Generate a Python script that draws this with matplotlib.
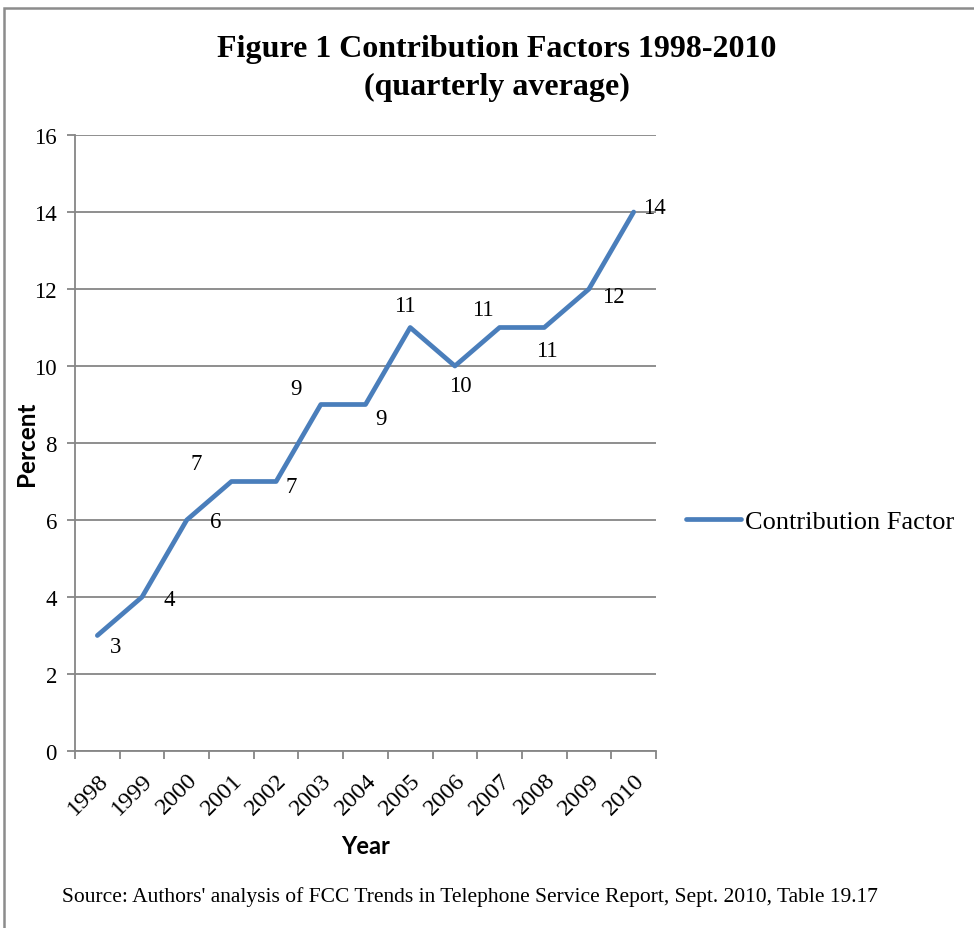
import matplotlib
matplotlib.use("Agg")
import matplotlib.pyplot as plt
from matplotlib.patches import Rectangle

years = ["1998", "1999", "2000", "2001", "2002", "2003", "2004",
         "2005", "2006", "2007", "2008", "2009", "2010"]
values = [3, 4, 6, 7, 7, 9, 9, 11, 10, 11, 11, 12, 14]
# label offsets (pixels) relative to each point
label_dx = [18, 27, 29, -35, 15, -25, 15, -5, 5, -17, 3, 24, 21]
label_dy = [-11, -2, -2, 18, -5, 16, -14, 22, -20, 18, -23, -8, 4]

serif = "Liberation Serif"
sans = "Lato"
grid_c = "#868686"
line_c = "#4A7EBB"

fig = plt.figure(figsize=(9.74, 9.29), dpi=100)
W, H = 974, 929
ax = fig.add_axes([75 / W, 1 - 752 / H, 581 / W, 616 / H])

x = list(range(len(years)))
ax.plot(x, values, color=line_c, lw=3.4, solid_capstyle="round",
        solid_joinstyle="round", label="Contribution Factor", zorder=3)

for xi, v, dx, dy in zip(x, values, label_dx, label_dy):
    ax.annotate(str(v), (xi, v), xytext=(dx, dy), textcoords="offset pixels",
                ha="center", va="center", fontsize=16.5, family=serif, zorder=4)

ax.set_xlim(-0.5, len(years) - 0.5)
ax.set_ylim(0, 16)
ax.set_yticks(range(0, 17, 2))
ax.set_yticklabels([str(t) for t in range(0, 17, 2)], family=serif, fontsize=16.5)
ax.yaxis.grid(True, color=grid_c, lw=1.3)
ax.set_axisbelow(True)

ax.set_xticks([i - 0.5 for i in range(len(years) + 1)])
ax.set_xticklabels([])
ax.set_xticks(x, minor=True)
ax.set_xticklabels(years, minor=True, rotation=45, ha="right", va="top",
                   rotation_mode="anchor", family=serif, fontsize=17.5)
ax.tick_params(axis="x", which="minor", length=0, pad=13)
ax.tick_params(axis="x", which="major", length=6, width=1.3, color=grid_c)
ax.tick_params(axis="y", length=6, width=1.3, color=grid_c, pad=7)

for s in ["top", "right"]:
    ax.spines[s].set_visible(False)
for s in ["left", "bottom"]:
    ax.spines[s].set_color(grid_c)
    ax.spines[s].set_linewidth(1.3)

ax.set_ylabel("Percent", family=sans, fontweight="bold", fontsize=17.5)
ax.yaxis.set_label_coords(-(75 - 27) / 581, 0.5)
ax.yaxis.label.set_va("center")
ax.set_xlabel("Year", family=sans, fontweight="bold", fontsize=17)
ax.xaxis.set_label_coords(0.5, -(846 - 752) / 616)
ax.xaxis.label.set_va("center")

fig.text(497 / W, 1 - 50 / H, "Figure 1 Contribution Factors 1998-2010",
         ha="center", va="center", family=serif, fontweight="bold", fontsize=23)
fig.text(497 / W, 1 - 87 / H, "(quarterly average)",
         ha="center", va="center", family=serif, fontweight="bold", fontsize=23)

leg = fig.legend(loc="center left", bbox_to_anchor=(686 / W, 1 - 522 / H),
                 frameon=False, prop={"family": serif, "size": 19},
                 handlelength=2.1, handletextpad=0.15, borderaxespad=0,
                 borderpad=0)

fig.text(470 / W, 1 - 897 / H,
         "Source: Authors' analysis of FCC Trends in Telephone Service Report, Sept. 2010, Table 19.17",
         ha="center", va="center", family=serif, fontsize=15.5)

fig.patches.append(Rectangle((4 / W, -0.1), 1.2, 1 - 9 / H + 0.1, transform=fig.transFigure,
                             fill=False, edgecolor="#8c8c8c", lw=1.8))

fig.savefig("out.png", dpi=100)
